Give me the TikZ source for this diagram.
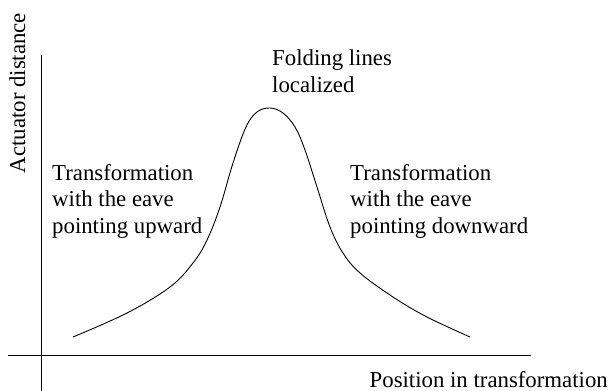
\documentclass[tikz,border=0pt]{standalone}
\usepackage{fontspec}
\setmainfont{Liberation Serif}
\usepackage{tikz}
\tikzstyle{label} = [inner sep=0pt, align=left,
font=\fontsize{22.8}{26.5}\selectfont]
\tikzstyle{axis} = [line width=0.9pt]
\tikzstyle{curve} = [line width=0.9pt]

\begin{document}
\begin{tikzpicture}[x=1pt, y=-1pt, color=black]
        \useasboundingbox (0,0) rectangle (611,391);
        % axes
        \draw [axis] (41,55) -- (41,391);
        \draw [axis] (8,355) -- (531,355);
        % curve
        \draw [curve] plot[smooth, tension=0.6] coordinates {(73,337) (127,313) (170,287) (193,263) (207,240) (220,207) (233,163) (246,127) (257,112) (270,108) (283,113) (295,127) (305,150) (317,187) (330,227) (343,253) (360,273) (393,297) (427,317) (470,337)};

        \node (ylabel) [label, rotate=90, anchor=base] at (25,93) {Actuator distance};
        \node (xlabel) [label, anchor=base east] at (608,387) {Position in transformation};
        \node (peak) [label, anchor=base west] at (272,92) {Folding lines\\localized};
        \node (upward) [label, anchor=base west] at (52,233) {Transformation\\with the eave\\pointing upward};
        \node (downward) [label, anchor=base west] at (350,233) {Transformation\\with the eave\\pointing downward};
    \end{tikzpicture}
\end{document}
